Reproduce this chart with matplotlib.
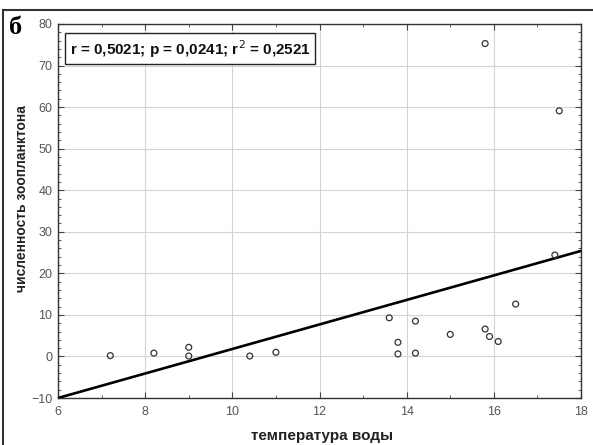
import numpy as np
import matplotlib
matplotlib.use("Agg")
import matplotlib.pyplot as plt
from matplotlib.lines import Line2D
from matplotlib.ticker import MultipleLocator

# water temperature (°C) and zooplankton abundance
temperature = [7.2, 8.2, 9.0, 9.0, 10.4, 11.0, 13.6, 13.8, 13.8, 14.2,
               14.2, 15.0, 15.8, 15.9, 16.1, 16.5, 17.4, 15.8, 17.5]
abundance = [0.2, 0.8, 2.2, 0.1, 0.1, 1.0, 9.3, 3.4, 0.6, 8.5,
             0.8, 5.3, 6.6, 4.8, 3.6, 12.6, 24.4, 75.3, 59.1]

# linear regression line: abundance = intercept + slope * temperature
fit_slope = 2.95
fit_intercept = -27.7

x_ticks = [6, 8, 10, 12, 14, 16, 18]
y_ticks = [-10, 0, 10, 20, 30, 40, 50, 60, 70, 80]
stats_text = "r = 0,5021; p = 0,0241; r$^2$ = 0,2521"
panel_label = "б"
x_label = "температура воды"
y_label = "численность зоопланктона"

plt.rcParams['font.family'] = ['Liberation Sans', 'DejaVu Sans']

fig = plt.figure(figsize=(5.93, 4.45), dpi=100)
ax = fig.add_axes([0.0978, 0.1056, 0.882, 0.8405])

ax.set_xlim(6, 18)
ax.set_ylim(-10, 80)
ax.set_xticks(x_ticks)
ax.set_yticks(y_ticks)
ax.xaxis.set_minor_locator(MultipleLocator(1))
ax.yaxis.set_minor_locator(MultipleLocator(2))
ax.tick_params(which='both', direction='in', top=True, right=True,
               colors='#444444', labelcolor='#555555')
ax.tick_params(which='major', length=4, width=0.8, labelsize=9)
ax.tick_params(axis='x', which='major', pad=6)
ax.tick_params(axis='y', which='major', pad=4)
ax.tick_params(which='minor', length=2, width=0.6)
ax.grid(True, which='major', color='#d4d4d4', linewidth=0.8)
ax.set_axisbelow(True)
for s in ax.spines.values():
    s.set_color('#333333')
    s.set_linewidth(1.0)

xl = np.array([6, 18])
ax.plot(xl, fit_intercept + fit_slope * xl, color='black', linewidth=1.9,
        zorder=3, clip_on=True)

ax.scatter(temperature, abundance, s=18, facecolors='none',
           edgecolors='#333333', linewidths=0.9, zorder=4)

ax.text(0.022, 0.963, stats_text, transform=ax.transAxes, fontsize=11,
        fontweight='bold', va='top', ha='left', color='#111111',
        bbox=dict(boxstyle='square,pad=0.3', facecolor='white',
                  edgecolor='#222222', linewidth=1.0), zorder=5)

ax.set_xlabel(x_label, fontsize=11, fontweight='bold', color='#222222')
ax.set_ylabel(y_label, fontsize=10, fontweight='bold', color='#222222')
ax.xaxis.set_label_coords(0.505, -0.083)
ax.yaxis.set_label_coords(-0.069, 0.532)
ax.xaxis.label.set_va('top')
ax.yaxis.label.set_va('center')

fig.text(0.016, 0.939, panel_label, fontsize=19, fontweight='bold',
         family=['Liberation Serif', 'DejaVu Serif'], va='center', ha='left')

# outer frame (left and top edges)
fig.add_artist(Line2D([0.005, 0.005], [0.0, 0.9775], transform=fig.transFigure,
                      color='#333333', linewidth=1.5))
fig.add_artist(Line2D([0.005, 0.998], [0.9775, 0.9775], transform=fig.transFigure,
                      color='#333333', linewidth=1.5))

fig.savefig("out.png", dpi=100)
